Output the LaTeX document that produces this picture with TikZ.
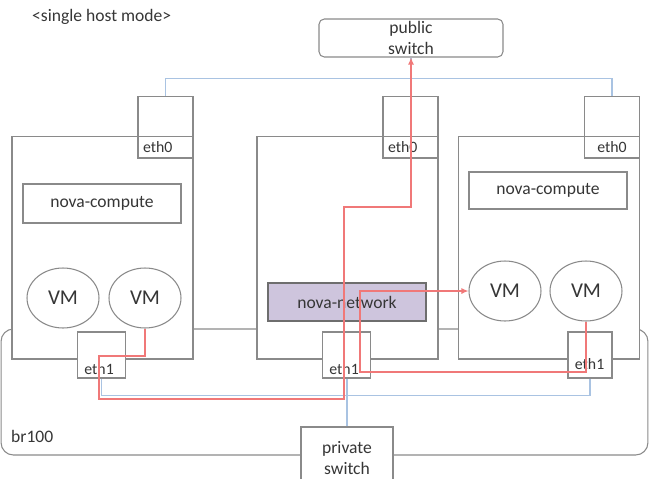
\documentclass[tikz,border=0pt]{standalone}
\usepackage{fontspec}
\setmainfont{Carlito}
\usetikzlibrary{shapes.geometric, arrows.meta, positioning, calc}

\definecolor{boxgray}{HTML}{8A8A8A}
\definecolor{txtgray}{HTML}{363636}
\definecolor{netblue}{HTML}{A9C3E2}
\definecolor{flowred}{HTML}{F07878}
\definecolor{netpurple}{HTML}{CEC5DD}

\begin{document}
\begin{tikzpicture}[
        x=0.02cm, y=-0.02cm,
        every node/.style={font=\normalsize, text=txtgray},
        box/.style={draw=boxgray, line width=0.6pt, inner sep=0pt},
        host/.style={box, fill=white, minimum width=3.62cm, minimum height=4.46cm},
        port/.style={box, minimum width=1.1cm, minimum height=1.24cm},
        nic/.style={box, fill=white, minimum width=0.96cm, minimum height=0.92cm},
        portlabel/.style={font=\small, anchor=south west, inner sep=1pt},
        service/.style={box, minimum width=3.16cm, minimum height=0.78cm},
        vm/.style={box, ellipse, minimum width=1.44cm, minimum height=1.2cm, font=\large},
        switch/.style={box, fill=white, align=center, minimum width=1.84cm, minimum height=1.24cm},
        bluewire/.style={draw=netblue, line width=0.7pt},
        redwire/.style={draw=flowred, line width=0.75pt, -{Latex[length=4pt, width=3.5pt]}}
    ]

    \useasboundingbox (0,0) rectangle (650,478);
    \clip (0,0) rectangle (650,478);

    % Title
    \node[anchor=west] (title) at (26,17) {<single host mode>};

    % Bridge br100
    \node[box, rounded corners=7pt, minimum width=12.94cm, minimum height=2.52cm] (bridge) at (324.5,392) {};
    \node[anchor=west] (brlabel) at (5,436) {br100};

    % Hosts
    \node[host] (hostL) at (102.5,247.5) {};
    \node[host] (hostM) at (347.5,247.5) {};
    \node[host] (hostR) at (549,247.5) {};

    % eth0 ports
    \node[port, anchor=north east] (eth0L) at ([yshift=0.8cm]hostL.north east) {};
    \node[port, anchor=north east] (eth0M) at ([yshift=0.8cm]hostM.north east) {};
    \node[port, anchor=north east] (eth0R) at ([yshift=0.8cm]hostR.north east) {};
    \node[portlabel] (lab0L) at ([xshift=2pt, yshift=2pt]eth0L.south west) {eth0};
    \node[portlabel] (lab0M) at ([xshift=2pt, yshift=2pt]eth0M.south west) {eth0};
    \node[portlabel, anchor=south] (lab0R) at ([yshift=2pt]eth0R.south) {eth0};

    % Services
    \node[service] (compL) at (102,203.5) {nova-compute};
    \node[service, minimum height=0.74cm] (compR) at (548,190.5) {nova-compute};
    \node[service, fill=netpurple, draw=boxgray!80!black, minimum height=0.76cm] (netM) at (347,302) {nova-network};

    % VMs
    \node[vm] (vmL1) at (63,298) {VM};
    \node[vm] (vmL2) at (145,298) {VM};
    \node[vm] (vmR1) at (505,291) {VM};
    \node[vm] (vmR2) at (586,291) {VM};

    % eth1 ports
    \node[nic] (eth1L) at (101.5,355) {};
    \node[nic] (eth1M) at (346.5,355) {};
    \node[nic, minimum width=0.88cm] (eth1R) at (590,355) {};
    \node[portlabel] (lab1L) at ([xshift=3pt, yshift=1pt]eth1L.south west) {eth1};
    \node[portlabel] (lab1M) at ([xshift=3pt, yshift=1pt]eth1M.south west) {eth1};
    \node[portlabel] (lab1R) at ([xshift=3pt, yshift=4pt]eth1R.south west) {eth1};

    % Switches
    \node[switch, rounded corners=3pt, minimum width=3.68cm, minimum height=0.76cm] (pubsw) at (411,38) {public\\switch};
    \node[switch] (privsw) at (347,458) {private\\switch};

    % Public network
    \draw[bluewire] (pubsw.south) -- (pubsw.south |- eth0M.north);
    \draw[bluewire] (eth0L.north) -- ++(0,-17) -| (eth0R.north);

    % Private network
    \draw[bluewire] (privsw.north) -- (privsw.north |- eth1M.south);
    \draw[bluewire] (eth1L.south) -- ++(0,17) -| (eth1R.south);

    % Traffic through nova-network
    \coordinate (turnL) at (99,356);
    \coordinate (turnM) at (344,207);
    \coordinate (turnR) at (360,372);
    \draw[redwire] (vmL2.south) |- (turnL) |- (344,399) -- (turnM) -| (pubsw.south);
    \draw[redwire] (vmR2.south) |- (turnR) |- (vmR1.west);

\end{tikzpicture}
\end{document}
